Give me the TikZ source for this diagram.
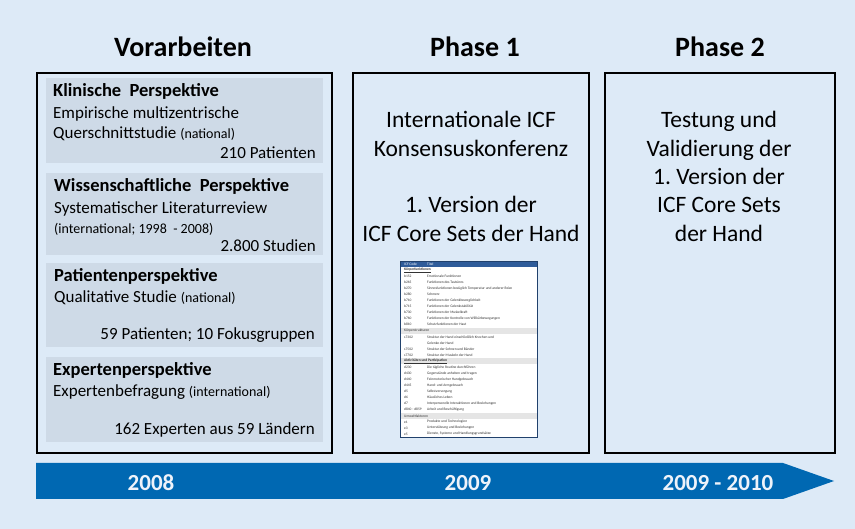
\documentclass[tikz,border=0pt]{standalone}
\usepackage{fontspec}
\setmainfont{Carlito}
\frenchspacing
\definecolor{bgblue}{HTML}{DDEAF7}
\definecolor{cardfill}{HTML}{CEDAE7}
\definecolor{barblue}{HTML}{0068B2}
\definecolor{docblue}{HTML}{2F5C9A}
\definecolor{yeartext}{HTML}{EEF3FA}

% one row of the small ICF table: row number, code, title
\newcommand{\icfrow}[3]{%
  \node[doccode] (code#1) at (404,{261+6.07*(#1-0.5)}) {#2};
  \node[doctitle] (title#1) at (427,{261+6.07*(#1-0.5)}) {#3};}
% shaded section row of the ICF table
\newcommand{\icfsection}[2]{%
  \fill[black!10] (400.5,{261+6.07*(#1-1)}) rectangle (536.5,{261+6.07*#1});
  \node[doccode] (sect#1) at (404,{261+6.07*(#1-0.5)}) {#2};}

\begin{document}
\begin{tikzpicture}[x=1pt,y=-1pt,
  panel/.style={draw=black, line width=2.2pt, anchor=north west, inner sep=0pt, outer sep=0pt},
  card/.style={fill=cardfill, anchor=north west, inner sep=0pt, outer sep=0pt},
  head/.style={font=\fontsize{28}{33}\selectfont\bfseries, anchor=base, inner sep=0pt},
  cardtitle/.style={font=\fontsize{18.5}{22}\selectfont\bfseries, anchor=base west, inner sep=0pt},
  cardtext/.style={font=\fontsize{17}{21}\selectfont, anchor=base west, inner sep=0pt},
  cardcount/.style={font=\fontsize{17}{21}\selectfont, anchor=base east, inner sep=0pt},
  phasetext/.style={font=\fontsize{23.5}{28.6}\selectfont, anchor=base, inner sep=0pt},
  year/.style={font=\fontsize{23}{27}\selectfont\bfseries, text=yeartext, anchor=base, inner sep=0pt},
  doccode/.style={font=\fontsize{3.6}{4.2}\selectfont, text=black!80, anchor=west, inner sep=0pt},
  doctitle/.style={doccode},
]
\newcommand{\smalltext}[1]{{\fontsize{14}{17}\selectfont #1}}

% page and background
\useasboundingbox (0,0) rectangle (855,529);
\fill[bgblue] (0,0) rectangle (855,529);

% column headings
\node[head] (hvor) at (183,57) {Vorarbeiten};
\node[head] (hph1) at (475,57) {Phase 1};
\node[head] (hph2) at (720,57) {Phase 2};

% framed columns
\node[panel, minimum width=295pt, minimum height=380pt] (vorarb) at (37,73) {};
\node[panel, minimum width=236pt, minimum height=380pt] (phase1) at (353,73) {};
\node[panel, minimum width=230pt, minimum height=380pt] (phase2) at (605,73) {};

% preparatory studies
\node[card, minimum width=277pt, minimum height=85pt] (klin) at (46,78) {};
\node[card, minimum width=277pt, minimum height=82pt] (wiss) at (46,173) {};
\node[card, minimum width=277pt, minimum height=84pt] (pat) at (46,263) {};
\node[card, minimum width=277pt, minimum height=85pt] (exp) at (46,357) {};

\node[cardtitle] (klinT) at (53,97) {Klinische\ \ Perspektive};
\node[cardtext] (klinA) at (53,119) {Empirische multizentrische};
\node[cardtext] (klinB) at (53,139) {Querschnittstudie \smalltext{(national)}};
\node[cardcount] (klinC) at (316,159) {210 Patienten};

\node[cardtitle] (wissT) at (54,192) {Wissenschaftliche\ \ Perspektive};
\node[cardtext] (wissA) at (54,214) {Systematischer Literaturreview};
\node[cardtext] (wissB) at (54,234) {\smalltext{(international; 1998\ \ - 2008)}};
\node[cardcount] (wissC) at (316,252) {2.800 Studien};

\node[cardtitle] (patT) at (54,282) {Patientenperspektive};
\node[cardtext] (patA) at (54,303) {Qualitative Studie \smalltext{(national)}};
\node[cardcount] (patC) at (315,340) {59 Patienten; 10 Fokusgruppen};

\node[cardtitle] (expT) at (53,376) {Expertenperspektive};
\node[cardtext] (expA) at (53,397) {Expertenbefragung \smalltext{(international)}};
\node[cardcount] (expC) at (315,435) {162 Experten aus 59 Ländern};

% phase 1
\node[phasetext] (p1a) at (471,128) {Internationale ICF};
\node[phasetext] (p1b) at (471,157) {Konsensuskonferenz};
\node[phasetext] (p1c) at (471,213) {1. Version der};
\node[phasetext] (p1d) at (471,242) {ICF Core Sets der Hand};

% phase 2
\node[phasetext] (p2a) at (719,128) {Testung und};
\node[phasetext] (p2b) at (719,157) {Validierung der};
\node[phasetext] (p2c) at (719,185) {1. Version der};
\node[phasetext] (p2d) at (719,213) {ICF Core Sets};
\node[phasetext] (p2e) at (719,242) {der Hand};

% core set table thumbnail
\node[fill=white, anchor=north west, minimum width=137pt, minimum height=176pt,
      inner sep=0pt, outer sep=0pt] (doc) at (400,261) {};
\fill[docblue] (400,261) rectangle (537,267);
\node[doccode, text=white] (dochA) at (404,264) {ICF Code};
\node[doccode, text=white] (dochB) at (427,264) {Titel};
\node[doccode, font=\fontsize{3.6}{4.2}\selectfont\bfseries] (sect2) at (404,{261+6.07*1.5}) {\underline{Körperfunktionen}};
\icfrow{3}{b152}{Emotionale Funktionen}
\icfrow{4}{b265}{Funktionen des Tastsinns}
\icfrow{5}{b270}{Sinnesfunktionen bezüglich Temperatur und anderer Reize}
\icfrow{6}{b280}{Schmerz}
\icfrow{7}{b710}{Funktionen der Gelenkbeweglichkeit}
\icfrow{8}{b715}{Funktionen der Gelenkstabilität}
\icfrow{9}{b730}{Funktionen der Muskelkraft}
\icfrow{10}{b760}{Funktionen der Kontrolle von Willkürbewegungen}
\icfrow{11}{b810}{Schutzfunktionen der Haut}
\icfsection{12}{Körperstrukturen}
\icfrow{13}{s7302}{Struktur der Hand einschließlich Knochen und}
\icfrow{14}{}{Gelenke der Hand}
\icfrow{15}{s7502}{Struktur der Sehnen und Bänder}
\icfrow{16}{s7702}{Struktur der Muskeln der Hand}
\icfsection{17}{\textbf{\underline{Aktivitäten und Partizipation}}}
\icfrow{18}{d230}{Die tägliche Routine durchführen}
\icfrow{19}{d430}{Gegenstände anheben und tragen}
\icfrow{20}{d440}{Feinmotorischer Handgebrauch}
\icfrow{21}{d445}{Hand- und Armgebrauch}
\icfrow{22}{d5}{Selbstversorgung}
\icfrow{23}{d6}{Häusliches Leben}
\icfrow{24}{d7}{Interpersonelle Interaktionen und Beziehungen}
\icfrow{25}{d840 - d859}{Arbeit und Beschäftigung}
\icfsection{26}{Umweltfaktoren}
\icfrow{27}{e1}{Produkte und Technologien}
\icfrow{28}{e3}{Unterstützung und Beziehungen}
\icfrow{29}{e5}{Dienste, Systeme und Handlungsgrundsätze}
\draw[docblue!70!black, line width=0.7pt] (doc.north west) rectangle (doc.south east);

% time line
\fill[barblue] (36,463) -- (783,463) -- (834,481) -- (783,499) -- (36,499) -- cycle;
\node[year] (y1) at (151,490) {2008};
\node[year] (y2) at (468,490) {2009};
\node[year] (y3) at (718,490) {2009 - 2010};
\end{tikzpicture}
\end{document}
